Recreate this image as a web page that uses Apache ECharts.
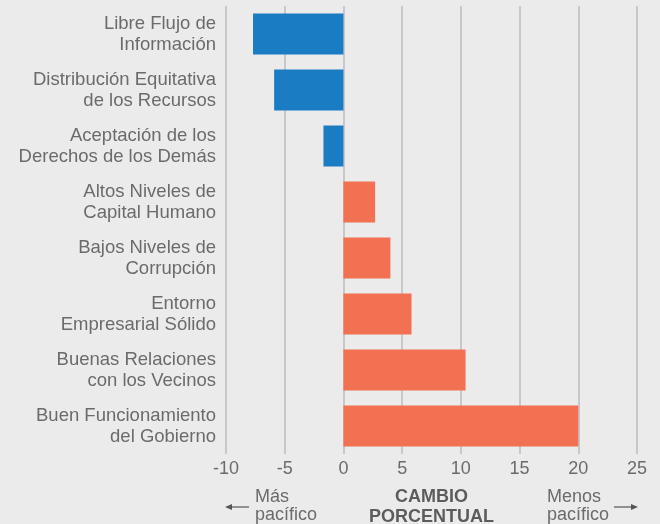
<!DOCTYPE html>
<html>
<head>
<meta charset="utf-8">
<script src="https://cdn.jsdelivr.net/npm/echarts@6/dist/echarts.min.js"></script>
<style>
  html, body { margin: 0; padding: 0; background: #ebebeb; }
  #chart { width: 660px; height: 524px; }
</style>
</head>
<body>
<div id="chart"></div>
<script>
// categories, top to bottom
var categories = [
  'Libre Flujo de\nInformación',
  'Distribución Equitativa\nde los Recursos',
  'Aceptación de los\nDerechos de los Demás',
  'Altos Niveles de\nCapital Humano',
  'Bajos Niveles de\nCorrupción',
  'Entorno\nEmpresarial Sólido',
  'Buenas Relaciones\ncon los Vecinos',
  'Buen Funcionamiento\ndel Gobierno'
];
// cambio porcentual
var values = [-7.7, -5.9, -1.7, 2.7, 4.0, 5.8, 10.4, 20.0];
var xTicks = { min: -10, max: 25, step: 5 };

var textGray = '#6b6b6b';
var blue = '#1a7dc4';
var orange = '#f37153';

var chart = echarts.init(document.getElementById('chart'));
var option = {
  backgroundColor: '#ebebeb',
  animation: false,
  grid: { left: 226, right: 23, top: 6, bottom: 70, containLabel: false, outerBoundsMode: 'none' },
  xAxis: {
    type: 'value',
    min: xTicks.min,
    max: xTicks.max,
    interval: xTicks.step,
    axisLine: { show: false },
    axisTick: { show: false },
    axisLabel: {
      color: textGray, fontSize: 18, fontFamily: 'Liberation Sans', margin: 6
    },
    splitLine: { show: true, lineStyle: { color: '#c8c8c8', width: 2 } },
    name: 'CAMBIO\nPORCENTUAL',
    nameLocation: 'middle',
    nameGap: 33,
    nameTextStyle: {
      color: '#5c5c5c', fontSize: 18, fontWeight: 'bold',
      fontFamily: 'Liberation Sans', lineHeight: 20, verticalAlign: 'top'
    }
  },
  yAxis: {
    type: 'category',
    inverse: true,
    data: categories,
    axisLine: { show: false },
    axisTick: { show: false },
    axisLabel: {
      color: textGray, fontSize: 18.5, fontFamily: 'Liberation Sans',
      lineHeight: 21, align: 'right', margin: 10
    }
  },
  series: [{
    type: 'bar',
    data: values,
    barWidth: 41,
    itemStyle: {
      color: function (p) { return p.value < 0 ? blue : orange; }
    }
  }],
  graphic: [
    {
      type: 'text', left: 255, top: 488,
      style: { text: 'Más\npacífico', fill: textGray, fontSize: 18,
        fontFamily: 'Liberation Sans', lineHeight: 18 }
    },
    {
      type: 'text', right: 51, top: 488,
      style: { text: 'Menos\npacífico', fill: textGray, fontSize: 18,
        fontFamily: 'Liberation Sans', lineHeight: 18, align: 'right' }
    },
    { type: 'line', shape: { x1: 231, y1: 507, x2: 249, y2: 507 },
      style: { stroke: '#555', lineWidth: 1.2 } },
    { type: 'polygon', shape: { points: [[225, 507], [232, 504], [232, 510]] },
      style: { fill: '#555' } },
    { type: 'line', shape: { x1: 614, y1: 507, x2: 632, y2: 507 },
      style: { stroke: '#555', lineWidth: 1.2 } },
    { type: 'polygon', shape: { points: [[638, 507], [631, 504], [631, 510]] },
      style: { fill: '#555' } }
  ]
};
chart.setOption(option);
</script>
</body>
</html>
